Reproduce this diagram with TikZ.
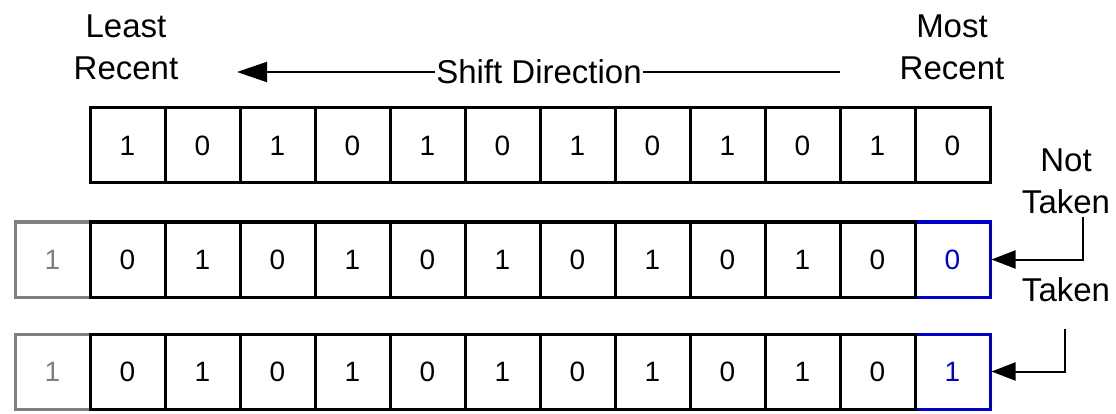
\documentclass[tikz,border=0pt]{standalone}
\usepackage{fontspec}
\setmainfont{Liberation Sans}
\usetikzlibrary{arrows.meta}
\definecolor{newbit}{HTML}{0000CC}
\definecolor{oldbit}{HTML}{808080}
\tikzset{
  bit/.style={draw, line width=3pt, minimum size=75pt, inner sep=0pt,
    font=\fontsize{28}{28}\selectfont},
  outbit/.style={bit, draw=oldbit, text=oldbit},
  inbit/.style={bit, draw=newbit, text=newbit},
  txt/.style={align=center, inner sep=1pt, font=\fontsize{33}{42}\selectfont},
  flow/.style={line width=2pt, -{Triangle[length=24pt,width=18pt]}}
}
\begin{document}
\begin{tikzpicture}[x=1pt,y=-1pt]
  \useasboundingbox (0,0) rectangle (1116,414);
  % headings
  \node[txt] (least) at (126,47) {Least\\Recent};
  \node[txt] (most) at (952,47) {Most\\Recent};
  \node[txt] (shift) at (539,72) {Shift Direction};
  \coordinate (shiftstart) at (840,72);
  \coordinate (shiftend) at (237,72);
  \draw[line width=2pt] (shiftstart) -- (shift);
  \draw[line width=2pt, -{Triangle[length=30pt,width=20pt]}] (shift) -- (shiftend);
  % history register
  \foreach \b [count=\i from 0] in {1,0,1,0,1,0,1,0,1,0,1,0}
    \node[bit] (r\i) at (127.5+75*\i,145.5) {\b};
  % after a not taken / taken branch
  \foreach \row/\y/\new in {m/259.5/0, n/371.5/1} {
    \node[outbit] (\row o) at (52.5,\y) {1};
    \node[inbit] (\row 11) at (952.5,\y) {\new};
    \foreach \b [count=\i from 0] in {0,1,0,1,0,1,0,1,0,1,0}
      \node[bit] (\row\i) at (127.5+75*\i,\y) {\b};
  }
  \node[txt] (nottaken) at (1066,181.5) {Not\\Taken};
  \node[txt] (taken) at (1066,289.5) {Taken};
  \coordinate (ntstart) at (1083,217);
  \coordinate (tkstart) at (1065,329);
  \draw[flow] (ntstart) |- (m11.east);
  \draw[flow] (tkstart) |- (n11.east);
\end{tikzpicture}
\end{document}
